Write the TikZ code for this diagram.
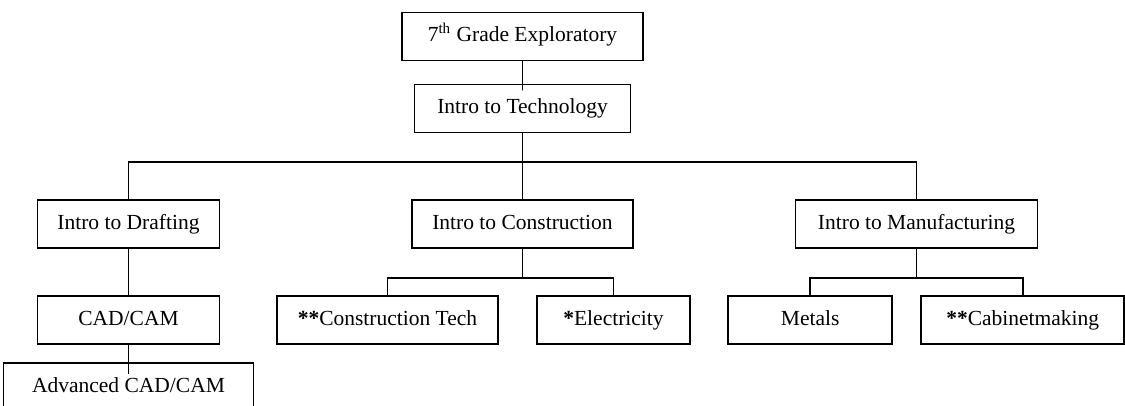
\documentclass[tikz,border=0pt]{standalone}
\usepackage{fontspec}
\setmainfont{Liberation Serif}
\begin{document}
\begin{tikzpicture}
  [line width=0.9pt,
    every node/.style={draw, minimum height=24pt,
    text height=7.6pt, text depth=2.4pt,
    font=\fontsize{10.75}{12.9}\selectfont},
    edge from parent path={(\tikzparentnode.south) -- +(0,-14.5pt)
    -| (\tikzchildnode.north)},
    level 1/.style={level distance=36pt},
    level 2/.style={sibling distance=197pt,
    level distance=57.75pt},
    level 3/.style={level distance=48pt},
    level 4/.style={level distance=33.5pt}]
  \useasboundingbox (-261.25pt,18.25pt) rectangle (301.25pt,-184.75pt);
  \node[minimum width=120.5pt] {7\textsuperscript{th} Grade Exploratory}
    child {node[minimum width=108pt] {Intro to Technology}
    child {node[minimum width=91pt] {Intro to Drafting}
      child {node[minimum width=91pt] {CAD/CAM}
        child {node[minimum width=125pt] {Advanced CAD/CAM}}
      }
    }
    child {node[minimum width=110.5pt] {Intro to Construction}
      [sibling distance=113pt]
      child {node[minimum width=110.5pt, xshift=-11pt] {\textbf{**}Construction Tech}}
      child {node[minimum width=76.5pt, xshift=-11pt] {\textbf{*}Electricity}}
    }
    child {node[minimum width=121pt] {Intro to Manufacturing}
      [sibling distance=106.25pt]
      child {node[minimum width=82pt] {Metals}}
      child {node[minimum width=101.5pt] {\textbf{**}Cabinetmaking}}
    }
  };
\end{tikzpicture}
\end{document}
